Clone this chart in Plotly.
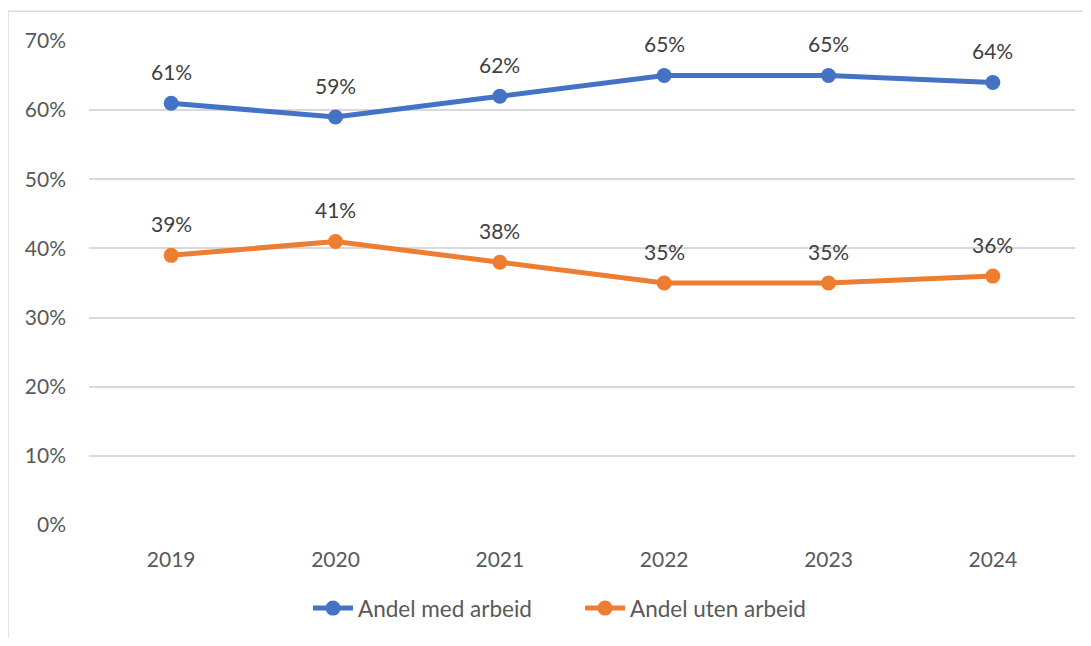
import plotly.graph_objects as go

years = ["2019", "2020", "2021", "2022", "2023", "2024"]
med_arbeid = [0.61, 0.59, 0.62, 0.65, 0.65, 0.64]
uten_arbeid = [0.39, 0.41, 0.38, 0.35, 0.35, 0.36]
y_ticks = [0, 0.1, 0.2, 0.3, 0.4, 0.5, 0.6, 0.7]
y_tick_labels = ["0%", "10%", "20%", "30%", "40%", "50%", "60%", "70%"]

FONT = "Lato"
TXT = "#595959"
BLUE = "#4472C4"
ORANGE = "#ED7D31"
FS = 21

fig = go.Figure()
fig.add_trace(go.Scatter(x=years, y=med_arbeid, mode="lines+markers", name="Andel med arbeid",
                         line=dict(color=BLUE, width=5), marker=dict(size=15, color=BLUE)))
fig.add_trace(go.Scatter(x=years, y=uten_arbeid, mode="lines+markers", name="Andel uten arbeid",
                         line=dict(color=ORANGE, width=5), marker=dict(size=15, color=ORANGE)))

annotations = []
for series in (med_arbeid, uten_arbeid):
    for i, v in enumerate(series):
        annotations.append(dict(x=i, y=v, xref="x", yref="y", text=f"{round(v*100)}%",
                                showarrow=False, yshift=32,
                                font=dict(family=FONT, size=FS, color="#404040")))

fig.update_layout(
    width=1075, height=630,
    margin=dict(l=81, r=8, t=33, b=110),
    paper_bgcolor="white", plot_bgcolor="white",
    font=dict(family=FONT, size=FS, color=TXT),
    annotations=annotations,
    showlegend=True,
    legend=dict(orientation="h", x=0.498, xanchor="center", y=-0.1725, yanchor="middle",
                font=dict(family=FONT, size=22.5, color=TXT), itemwidth=40,
                entrywidth=217, entrywidthmode="pixels", tracegroupgap=0),
    shapes=[dict(type="rect", xref="paper", yref="paper", x0=-0.0822, x1=1.2, y0=-0.5, y1=1.0616,
                 line=dict(color="#D9D9D9", width=1.5), fillcolor="rgba(0,0,0,0)", layer="below")],
)
fig.update_xaxes(type="category", range=[-0.5, 5.5], showgrid=False, showline=False, zeroline=False,
                 ticks="", ticklabelstandoff=20, tickfont=dict(family=FONT, size=FS, color=TXT))
fig.update_yaxes(range=[0, 0.7], tickvals=y_ticks, ticktext=y_tick_labels, showgrid=True,
                 gridcolor="#D9D9D9", gridwidth=1.5, zeroline=False, showline=False, ticks="",
                 ticklabelstandoff=22, tickfont=dict(family=FONT, size=FS, color=TXT))

fig.write_html("out.html")
